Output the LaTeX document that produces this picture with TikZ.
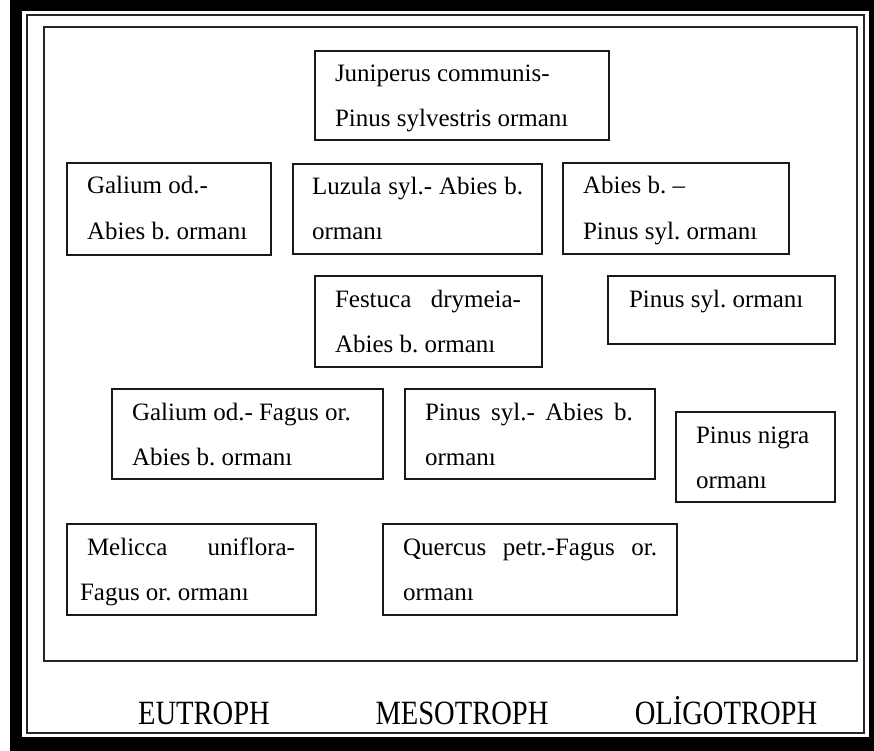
\documentclass[tikz,border=0pt]{standalone}
\usepackage{fontspec}
\setmainfont{Liberation Serif}
\frenchspacing
\begin{document}
\begin{tikzpicture}[x=1pt,y=-1pt,
  box/.style={draw=black!90,line width=1.6pt,rectangle,anchor=north west,inner sep=0pt,outer sep=0pt},
  txt/.style={anchor=base west,inner sep=0pt,outer sep=0pt,font=\fontsize{25}{29}\selectfont},
  lbl/.style={anchor=base,inner sep=0pt,outer sep=0pt,font=\fontsize{34}{40}\selectfont,xscale=0.84}]
\useasboundingbox (0,0) rectangle (874,751);
% outer frames
\fill[black] (10,0) rectangle (874,751);
\fill[white] (22,11) rectangle (869,737);
\draw[black!85,line width=2.4pt] (27,15) rectangle (864,733);
\draw[black!85,line width=1.8pt] (44,27) rectangle (857,661);
% boxes
\node[box,minimum width=294pt,minimum height=89pt] (b1) at (315,51) {};
\node[box,minimum width=204pt,minimum height=92pt] (b2) at (67,163) {};
\node[box,minimum width=249pt,minimum height=90pt] (b3) at (293,164) {};
\node[box,minimum width=226pt,minimum height=91pt] (b4) at (563,163) {};
\node[box,minimum width=227pt,minimum height=91pt] (b5) at (315,276) {};
\node[box,minimum width=227pt,minimum height=68pt] (b6) at (608,276) {};
\node[box,minimum width=271pt,minimum height=90pt] (b7) at (112,389) {};
\node[box,minimum width=250pt,minimum height=90pt] (b8) at (405,389) {};
\node[box,minimum width=159pt,minimum height=90pt] (b9) at (676,412) {};
\node[box,minimum width=249pt,minimum height=91pt] (b10) at (67,524) {};
\node[box,minimum width=294pt,minimum height=91pt] (b11) at (383,524) {};
% texts
\node[txt] (t1a) at ([shift={(20,31)}]b1.north west) {Juniperus communis-};
\node[txt] (t1b) at ([shift={(20,76)}]b1.north west) {Pinus sylvestris ormanı};
\node[txt] (t2a) at ([shift={(20,31)}]b2.north west) {Galium od.-};
\node[txt] (t2b) at ([shift={(20,76)}]b2.north west) {Abies b. ormanı};
\node[txt] (t3a) at ([shift={(19,31)}]b3.north west) {\makebox[211pt][s]{Luzula syl.- Abies b.}};
\node[txt] (t3b) at ([shift={(19,76)}]b3.north west) {ormanı};
\node[txt] (t4a) at ([shift={(20,31)}]b4.north west) {Abies b. –};
\node[txt] (t4b) at ([shift={(20,76)}]b4.north west) {Pinus syl. ormanı};
\node[txt] (t5a) at ([shift={(20,31)}]b5.north west) {\makebox[186pt][s]{Festuca drymeia-}};
\node[txt] (t5b) at ([shift={(20,76)}]b5.north west) {Abies b. ormanı};
\node[txt] (t6a) at ([shift={(21,31)}]b6.north west) {Pinus syl. ormanı};
\node[txt] (t7a) at ([shift={(20,31)}]b7.north west) {Galium od.- Fagus or.};
\node[txt] (t7b) at ([shift={(20,76)}]b7.north west) {Abies b. ormanı};
\node[txt] (t8a) at ([shift={(20,31)}]b8.north west) {\makebox[208pt][s]{Pinus syl.- Abies b.}};
\node[txt] (t8b) at ([shift={(20,76)}]b8.north west) {ormanı};
\node[txt] (t9a) at ([shift={(20,31)}]b9.north west) {Pinus nigra};
\node[txt] (t9b) at ([shift={(20,76)}]b9.north west) {ormanı};
\node[txt] (t10a) at ([shift={(20,31)}]b10.north west) {\makebox[208pt][s]{Melicca uniflora-}};
\node[txt] (t10b) at ([shift={(13,76)}]b10.north west) {Fagus or. ormanı};
\node[txt] (t11a) at ([shift={(20,31)}]b11.north west) {\makebox[254pt][s]{Quercus petr.-Fagus or.}};
\node[txt] (t11b) at ([shift={(20,76)}]b11.north west) {ormanı};
% bottom labels
\node[lbl] (l1) at (204,724) {EUTROPH};
\node[lbl] (l2) at (462,724) {MESOTROPH};
\node[lbl] (l3) at (726,724) {OLİGOTROPH};
\end{tikzpicture}
\end{document}
